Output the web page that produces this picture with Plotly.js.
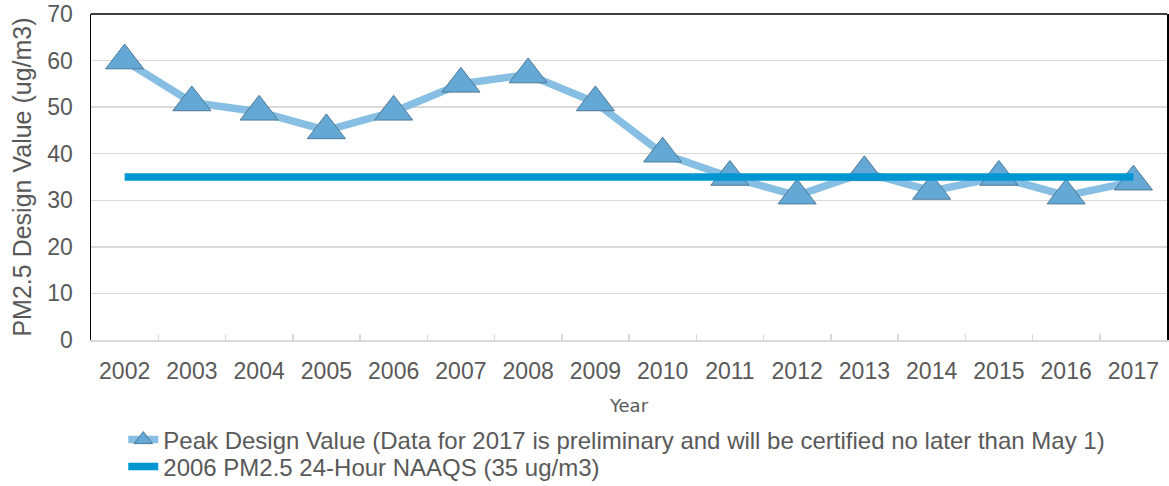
<!DOCTYPE html>
<html>
<head>
<meta charset="utf-8">
<script src="https://cdn.plot.ly/plotly-3.0.1.min.js"></script>
<style>
  html, body { margin: 0; padding: 0; background: #fff; }
  #chart { width: 1169px; height: 486px; }
</style>
</head>
<body>
<div id="chart"></div>
<script>
// Annual peak PM2.5 24-hour design values against the 2006 standard
const years = ['2002', '2003', '2004', '2005', '2006', '2007', '2008', '2009',
               '2010', '2011', '2012', '2013', '2014', '2015', '2016', '2017'];
const peakDesignValue = [60, 51, 49, 45, 49, 55, 57, 51, 40, 35, 31, 36, 32, 35, 31, 34];
const naaqsLevel = 35;
const naaqsValues = years.map(() => naaqsLevel);

const peakName = 'Peak Design Value (Data for 2017 is preliminary and will be certified no later than May 1)';
const naaqsName = '2006 PM2.5 24-Hour NAAQS (35 ug/m3)';

const textGrey = '#595959';
const gridGrey = '#d9d9d9';
const legendFont = { family: 'Liberation Sans, Arial, sans-serif', size: 24, color: textGrey };

const traces = [
  {
    type: 'scatter',
    mode: 'lines+markers',
    name: peakName,
    legend: 'legend',
    x: years,
    y: peakDesignValue,
    line: { color: '#86bfe3', width: 7.5 },
    marker: {
      symbol: 'triangle-up',
      size: 33,
      color: '#64a9d6',
      line: { color: '#4d7896', width: 1 }
    }
  },
  {
    type: 'scatter',
    mode: 'lines',
    name: naaqsName,
    legend: 'legend2',
    x: years,
    y: naaqsValues,
    line: { color: '#0096d1', width: 7.5 }
  }
];

// one legend box per series so the two rows sit close together
function legendBox(yCenter) {
  return {
    orientation: 'v',
    x: 0.03,
    xanchor: 'left',
    yref: 'container',
    y: yCenter,
    yanchor: 'middle',
    font: legendFont,
    itemwidth: 30,
    bgcolor: 'rgba(0,0,0,0)'
  };
}

const layout = {
  width: 1169,
  height: 486,
  margin: { l: 91, r: 2, t: 14, b: 146, autoexpand: false },
  paper_bgcolor: '#ffffff',
  plot_bgcolor: '#ffffff',
  font: { family: 'Liberation Sans, Arial, sans-serif', color: textGrey, size: 23 },
  showlegend: true,
  legend: legendBox(1 - 440 / 486),
  legend2: legendBox(1 - 467 / 486),
  xaxis: {
    type: 'category',
    range: [-0.5, 15.5],
    automargin: false,
    showgrid: false,
    zeroline: false,
    showline: true,
    linecolor: gridGrey,
    linewidth: 1.5,
    ticks: 'inside',
    tickson: 'boundaries',
    ticklen: 6,
    tickcolor: gridGrey,
    tickwidth: 1.5,
    ticklabelstandoff: 10,
    tickfont: { size: 23, color: textGrey },
    title: {
      text: 'Year',
      font: { family: 'DejaVu Sans, Verdana, sans-serif', size: 18, color: textGrey },
      standoff: 16
    },
    fixedrange: true
  },
  yaxis: {
    range: [0, 70],
    dtick: 10,
    automargin: false,
    showgrid: true,
    gridcolor: gridGrey,
    gridwidth: 1.5,
    zeroline: false,
    showline: true,
    mirror: true,
    linecolor: '#000000',
    linewidth: 1.5,
    ticks: '',
    ticklabelstandoff: 12,
    tickfont: { size: 23, color: textGrey },
    title: {
      text: 'PM2.5 Design Value (ug/m3)',
      font: { size: 25, color: textGrey },
      standoff: 8
    },
    fixedrange: true
  },
  shapes: [
    {
      type: 'line', xref: 'paper', yref: 'paper',
      x0: 0, x1: 1, y0: 1, y1: 1,
      line: { color: '#000000', width: 1.5 }
    }
  ]
};

Plotly.newPlot('chart', traces, layout, { displayModeBar: false, staticPlot: true });
</script>
</body>
</html>
